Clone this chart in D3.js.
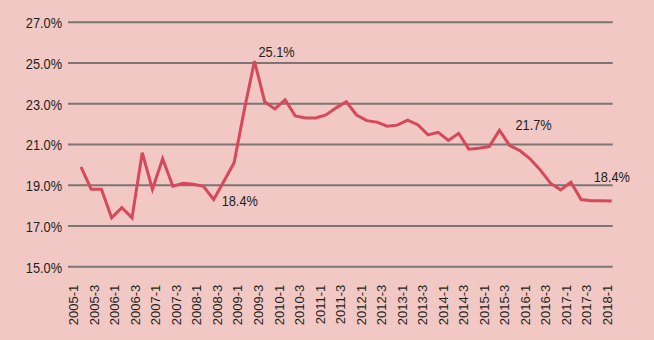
<!DOCTYPE html>
<html>
<head>
<meta charset="utf-8">
<script src="https://cdn.jsdelivr.net/npm/d3@7"></script>
<style>
  html, body { margin: 0; padding: 0; background: #f2c8c5; }
  #chart { width: 654px; height: 340px; }
  text { font-family: "Liberation Sans", Arial, sans-serif; fill: #231f20; }
</style>
</head>
<body>
<div id="chart"></div>
<script>
// quarters 2005-1 .. 2018-1
const years = d3.range(2005, 2019);
const quarters = [];
years.forEach(y => [1, 2, 3, 4].forEach(q => { if (y < 2018 || q === 1) quarters.push(y + '-' + q); }));

// share (%), one value per quarter
const values = [
  19.9, 18.8, 18.8, 17.4, 17.9, 17.4, 20.6, 18.8, 20.3, 18.95,
  19.1, 19.05, 18.95, 18.3, 19.2, 20.1, 22.7, 25.1, 23.1, 22.75,
  23.2, 22.4, 22.3, 22.3, 22.45, 22.8, 23.1, 22.45, 22.17, 22.1,
  21.9, 21.95, 22.2, 21.97, 21.47, 21.6, 21.2, 21.55, 20.77, 20.82,
  20.9, 21.7, 20.95, 20.7, 20.3, 19.75, 19.1, 18.77, 19.15, 18.3,
  18.24, 18.24, 18.23
];

const yTicks = [15, 17, 19, 21, 23, 25, 27];

// callouts on the line
const noteIndex = [17, 13, 41, 52];
const noteText = ['25.1%', '18.4%', '21.7%', '18.4%'];

window.addEventListener('DOMContentLoaded', function() {
  const width = 654, height = 340;

  const svg = d3.select('#chart')
    .append('svg')
    .attr('width', width)
    .attr('height', height)
    .style('display', 'block');

  svg.append('rect')
    .attr('width', width)
    .attr('height', height)
    .attr('fill', '#f2c8c5');

  const y = d3.scaleLinear().domain([15, 27]).range([266.7, 22.3]);
  // line points and category labels sit on slightly different spans
  const xLine = d3.scalePoint().domain(quarters).range([81, 611.7]);
  const xAxis = d3.scalePoint().domain(quarters).range([73.3, 606.7]);

  // squeeze text a little, the original font is a narrow one
  function narrow(sel) {
    sel.each(function() {
      const w = this.getComputedTextLength();
      d3.select(this).attr('textLength', w * 0.9).attr('lengthAdjust', 'spacingAndGlyphs');
    });
  }

  // gridlines
  svg.append('g')
    .selectAll('line')
    .data(yTicks)
    .join('line')
    .attr('x1', 68)
    .attr('x2', 612.7)
    .attr('y1', d => y(d))
    .attr('y2', d => y(d))
    .attr('stroke', '#7e7474')
    .attr('stroke-width', 2);

  // y labels
  svg.append('g')
    .selectAll('text')
    .data(yTicks)
    .join('text')
    .attr('x', 62)
    .attr('y', d => y(d))
    .attr('dy', '0.42em')
    .attr('text-anchor', 'end')
    .attr('font-size', 14.2)
    .text(d => d.toFixed(1) + '%')
    .call(narrow);

  // x axis, every other quarter labelled
  const axis = d3.axisBottom(xAxis)
    .tickValues(quarters.filter((d, i) => i % 2 === 0))
    .tickSize(0)
    .tickPadding(0);

  const gx = svg.append('g')
    .attr('transform', 'translate(0,' + y(15) + ')')
    .call(axis);
  gx.select('.domain').remove();
  gx.selectAll('text')
    .attr('transform', 'rotate(-90)')
    .attr('x', -18)
    .attr('y', 0)
    .attr('dy', '0.35em')
    .attr('text-anchor', 'end')
    .attr('font-size', 13)
    .attr('font-family', '"Liberation Sans", Arial, sans-serif')
    .attr('fill', '#231f20');

  // the series line
  const line = d3.line()
    .x((d, i) => xLine(quarters[i]))
    .y(d => y(d));

  svg.append('path')
    .datum(values)
    .attr('d', line)
    .attr('fill', 'none')
    .attr('stroke', '#d6485a')
    .attr('stroke-width', 3)
    .attr('stroke-linejoin', 'miter');

  // callout text
  const offsets = [[4, -4], [8, 7], [16, 0], [-18, -19]];
  svg.append('g')
    .selectAll('text')
    .data(noteIndex)
    .join('text')
    .attr('x', (d, i) => xLine(quarters[d]) + offsets[i][0])
    .attr('y', (d, i) => y(values[d]) + offsets[i][1])
    .attr('font-size', 14.2)
    .text((d, i) => noteText[i])
    .call(narrow);
});
</script>
</body>
</html>
